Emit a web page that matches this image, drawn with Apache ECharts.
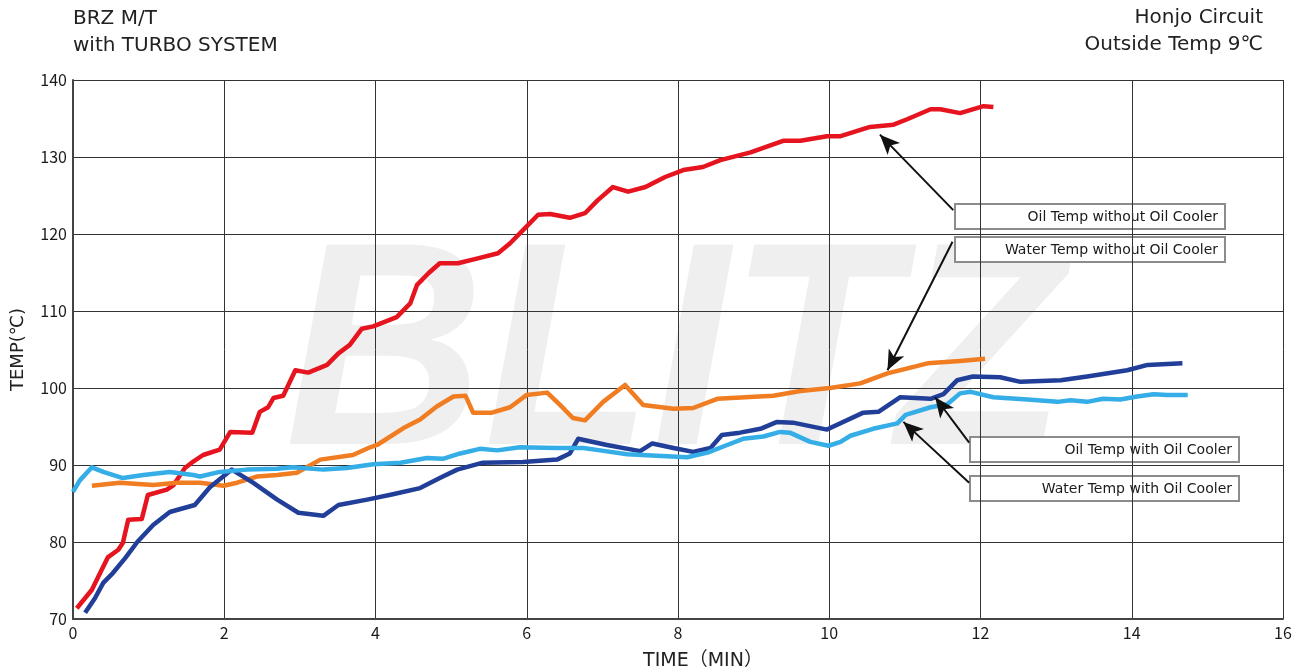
<!DOCTYPE html>
<html>
<head>
<meta charset="utf-8">
<script src="https://cdn.jsdelivr.net/npm/echarts@6/dist/echarts.min.js"></script>
<style>
  html, body { margin: 0; padding: 0; background: #fff; }
  #chart { width: 1298px; height: 672px; }
</style>
</head>
<body>
<div id="chart"></div>
<script>
// [time (min), temp (°C)]
var oilNoCooler = [[0.05,71.4],[0.25,73.8],[0.36,76],[0.46,78],[0.6,79],[0.66,79.9],[0.73,82.9],[0.91,83],[0.99,86.1],[1.24,86.8],[1.33,87.4],[1.48,89.6],[1.57,90.3],[1.72,91.3],[1.94,92],[2.08,94.3],[2.37,94.2],[2.47,96.9],[2.58,97.5],[2.65,98.7],[2.78,99],[2.94,102.3],[3.11,102],[3.36,103],[3.51,104.5],[3.66,105.6],[3.82,107.7],[3.97,108],[4.28,109.2],[4.46,111],[4.55,113.4],[4.7,114.9],[4.85,116.2],[5.09,116.2],[5.34,116.8],[5.62,117.5],[5.78,118.8],[5.98,120.8],[6.15,122.5],[6.31,122.6],[6.57,122.1],[6.77,122.7],[6.94,124.4],[7.14,126.1],[7.34,125.5],[7.57,126.1],[7.83,127.4],[8.07,128.3],[8.33,128.7],[8.56,129.6],[8.96,130.6],[9.39,132.1],[9.62,132.1],[9.97,132.7],[10.15,132.7],[10.54,133.9],[10.85,134.2],[11.03,134.9],[11.34,136.2],[11.47,136.2],[11.73,135.7],[12.04,136.6],[12.17,136.5]];
var waterNoCooler = [[0.25,87.3],[0.62,87.7],[1.06,87.4],[1.37,87.7],[1.68,87.7],[1.99,87.3],[2.17,87.7],[2.43,88.5],[2.7,88.7],[2.96,89],[3.27,90.7],[3.7,91.3],[3.93,92.3],[4.02,92.6],[4.37,94.8],[4.59,95.9],[4.81,97.6],[5.03,98.9],[5.19,99],[5.29,96.8],[5.54,96.8],[5.78,97.5],[6.0,99.1],[6.27,99.4],[6.44,97.8],[6.61,96.1],[6.77,95.8],[7.01,98.2],[7.3,100.4],[7.54,97.8],[7.94,97.3],[8.2,97.4],[8.52,98.6],[9.26,99],[9.62,99.6],[10.01,100],[10.41,100.6],[10.77,101.9],[11.3,103.2],[11.73,103.5],[12.06,103.8]];
var oilCooler = [[0.16,70.8],[0.29,72.7],[0.4,74.7],[0.53,76],[0.69,77.9],[0.85,80],[1.06,82.2],[1.28,83.9],[1.61,84.8],[1.81,87.1],[2.1,89.4],[2.38,87.7],[2.7,85.5],[2.98,83.8],[3.31,83.4],[3.51,84.8],[3.89,85.5],[4.23,86.2],[4.59,87],[4.85,88.3],[5.08,89.4],[5.42,90.3],[5.95,90.4],[6.4,90.7],[6.57,91.5],[6.68,93.4],[7.06,92.6],[7.5,91.8],[7.66,92.8],[7.94,92.2],[8.2,91.7],[8.43,92.2],[8.58,93.9],[8.82,94.2],[9.09,94.7],[9.31,95.6],[9.52,95.5],[9.97,94.6],[10.45,96.8],[10.65,96.9],[10.94,98.8],[11.34,98.6],[11.51,99.2],[11.69,101],[11.9,101.5],[12.26,101.4],[12.53,100.8],[13.06,101],[13.41,101.5],[13.94,102.3],[14.21,103],[14.67,103.2]];
var waterCooler = [[0.0,86.5],[0.09,88],[0.25,89.7],[0.4,89.1],[0.66,88.3],[0.93,88.7],[1.28,89.1],[1.59,88.7],[1.68,88.5],[1.94,89.1],[2.3,89.4],[2.7,89.5],[2.91,89.7],[3.31,89.4],[3.62,89.6],[3.97,90.1],[4.33,90.3],[4.68,90.9],[4.89,90.8],[5.12,91.5],[5.38,92.1],[5.61,91.9],[5.91,92.3],[6.4,92.2],[6.75,92.2],[6.97,91.9],[7.33,91.4],[7.72,91.2],[8.12,91],[8.39,91.6],[8.65,92.6],[8.86,93.4],[9.13,93.7],[9.35,94.3],[9.48,94.2],[9.75,93],[9.99,92.5],[10.15,93],[10.28,93.8],[10.58,94.7],[10.9,95.4],[11.01,96.5],[11.34,97.5],[11.56,97.9],[11.73,99.3],[11.87,99.5],[12.17,98.8],[12.62,98.5],[13.02,98.2],[13.19,98.4],[13.41,98.2],[13.62,98.6],[13.85,98.5],[14.07,98.9],[14.29,99.2],[14.47,99.1],[14.74,99.1]];

var seriesNames = ["Oil Temp without Oil Cooler", "Water Temp without Oil Cooler", "Oil Temp with Oil Cooler", "Water Temp with Oil Cooler"];
// arrows: [from (box edge), to (line)]
var arrows = [
  [[11.64, 123.1], [10.67, 132.9]],
  [[11.63, 119.0], [10.77, 102.3]],
  [[11.85, 92.9], [11.4, 98.8]],
  [[11.85, 87.7], [10.98, 95.6]]
];

var font = '"DejaVu Sans", "Noto Sans CJK JP", sans-serif';
var tickFont = '"Noto Sans CJK JP", sans-serif';
var myChart = echarts.init(document.getElementById("chart"));

function labelBox(left, top, w, text) {
  return {
    type: "group",
    left: left,
    top: top,
    z: 100,
    children: [
      { type: "rect", shape: { x: 0, y: 0, width: w, height: 25 },
        style: { fill: "#fff", stroke: "#8c8c8c", lineWidth: 2 } },
      { type: "text", x: w - 7, y: 13,
        style: { text: text, fill: "#1a1a1a", font: "14px " + font, align: "right", verticalAlign: "middle" } }
    ]
  };
}

function lineSeries(name, data, color) {
  return {
    name: name,
    type: "line",
    data: data,
    showSymbol: false,
    symbol: "none",
    lineStyle: { color: color, width: 4.5, join: "round" },
    z: 3
  };
}

var series = [
  lineSeries(seriesNames[0], oilNoCooler, "#e6141e"),
  lineSeries(seriesNames[1], waterNoCooler, "#f07d22"),
  lineSeries(seriesNames[2], oilCooler, "#213f98"),
  lineSeries(seriesNames[3], waterCooler, "#35ade6")
];
series[0].markLine = {
  silent: true,
  symbol: ["none", "arrow"],
  symbolSize: [13, 20],
  label: { show: false },
  lineStyle: { color: "#111", width: 2, type: "solid" },
  emphasis: { disabled: true },
  animation: false,
  data: arrows.map(function (a) {
    return [{ coord: a[0] }, { coord: a[1] }];
  })
};

myChart.setOption({
  animation: false,
  grid: { left: 73, right: 15, top: 80, bottom: 53, outerBoundsMode: "none" },
  xAxis: {
    type: "value",
    min: 0,
    max: 16,
    interval: 2,
    name: "TIME（MIN）",
    nameLocation: "middle",
    nameGap: 33,
    nameTextStyle: { color: "#222", fontSize: 19, fontFamily: font, padding: [0, 0, 0, 50] },
    axisLine: { lineStyle: { color: "#444", width: 2 } },
    axisTick: { show: false },
    axisLabel: { color: "#1a1a1a", fontSize: 16, fontFamily: tickFont, margin: 6 },
    splitLine: { lineStyle: { color: "#333", width: 1 } }
  },
  yAxis: {
    type: "value",
    min: 70,
    max: 140,
    interval: 10,
    name: "TEMP(℃)",
    nameLocation: "middle",
    nameGap: 46,
    nameTextStyle: { color: "#222", fontSize: 18, fontFamily: font },
    axisLine: { show: true, lineStyle: { color: "#444", width: 2 } },
    axisTick: { show: false },
    axisLabel: { color: "#1a1a1a", fontSize: 16, fontFamily: tickFont, margin: 6 },
    splitLine: { lineStyle: { color: "#333", width: 1 } }
  },
  graphic: [
    // watermark logo
    { type: "text", x: 285, y: 364, scaleX: 0.95, z: -10, silent: true,
      style: { text: "BLITZ", font: 'italic bold 290px "Liberation Sans"', fill: "#efefef", align: "left", verticalAlign: "middle" } },
    { type: "text", left: 73, top: 9,
      style: { text: "BRZ M/T", fill: "#222", font: "20px " + font } },
    { type: "text", left: 73, top: 36,
      style: { text: "with TURBO SYSTEM", fill: "#222", font: "20px " + font } },
    { type: "text", right: 35, top: 8,
      style: { text: "Honjo Circuit", fill: "#222", font: "20px " + font } },
    { type: "text", right: 35, top: 35,
      style: { text: "Outside Temp 9℃", fill: "#222", font: "20px " + font } },
    labelBox(954, 203, 270, seriesNames[0]),
    labelBox(954, 236, 270, seriesNames[1]),
    labelBox(969, 436, 269, seriesNames[2]),
    labelBox(969, 475, 269, seriesNames[3])
  ],
  series: series
});
</script>
</body>
</html>
